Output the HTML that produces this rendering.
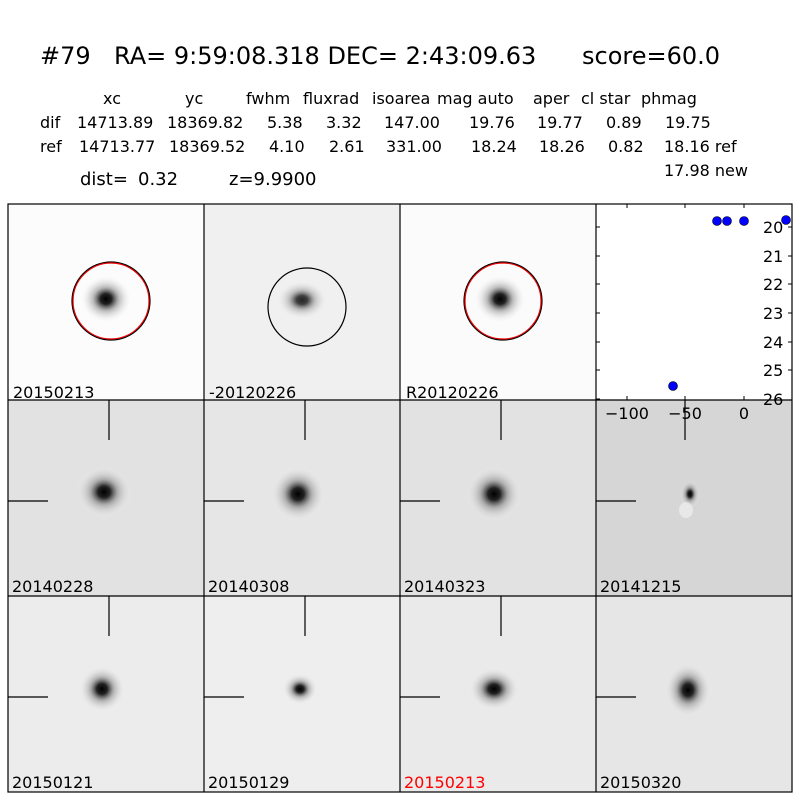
<!DOCTYPE html>
<html><head><style>body{margin:0;background:#fff}svg{display:block}text{font-family:"DejaVu Sans","Liberation Sans",sans-serif;fill:#000}</style></head>
<body>
<svg width="800" height="800" viewBox="0 0 800 800" xmlns="http://www.w3.org/2000/svg">
<defs>
<radialGradient id="b" cx="50%" cy="50%" r="50%">
<stop offset="0" stop-color="#000"/><stop offset="0.22" stop-color="#222"/><stop offset="0.5" stop-color="#888" stop-opacity="0.55"/><stop offset="1" stop-color="#fff" stop-opacity="0"/>
</radialGradient>
</defs>
<g font-size="24">
<text x="40" y="64">#79</text><text x="114" y="64">RA= 9:59:08.318 DEC= 2:43:09.63</text><text x="582" y="64">score=60.0</text>
</g>
<g font-size="16">
<text x="103" y="104">xc</text><text x="185" y="104">yc</text><text x="246" y="104">fwhm</text><text x="303" y="104">fluxrad</text><text x="372" y="104">isoarea</text><text x="437" y="104">mag auto</text><text x="533" y="104">aper</text><text x="581" y="104">cl star</text><text x="641" y="104">phmag</text>
<text x="40" y="128">dif</text><text x="77" y="128">14713.89</text><text x="167" y="128">18369.82</text><text x="267" y="128">5.38</text><text x="326" y="128">3.32</text><text x="384" y="128">147.00</text><text x="469" y="128">19.76</text><text x="537" y="128">19.77</text><text x="606" y="128">0.89</text><text x="665" y="128">19.75</text>
<text x="40" y="152">ref</text><text x="79" y="152">14713.77</text><text x="169" y="152">18369.52</text><text x="269" y="152">4.10</text><text x="329" y="152">2.61</text><text x="386" y="152">331.00</text><text x="471" y="152">18.24</text><text x="539" y="152">18.26</text><text x="608" y="152">0.82</text><text x="664" y="152">18.16 ref</text>
<text x="664" y="176">17.98 new</text>
</g>
<g font-size="18"><text x="80" y="185">dist=</text><text x="138" y="185">0.32</text><text x="229" y="185">z=9.9900</text></g>

<rect x="8" y="204" width="196" height="196" fill="#fcfcfc"/>
<rect x="204" y="204" width="196" height="196" fill="#f0f0f0"/>
<rect x="400" y="204" width="196" height="196" fill="#fbfbfb"/>
<rect x="596" y="204" width="196" height="196" fill="#fff"/>
<rect x="8" y="400" width="196" height="196" fill="#e2e2e2"/>
<rect x="204" y="400" width="196" height="196" fill="#e6e6e6"/>
<rect x="400" y="400" width="196" height="196" fill="#e2e2e2"/>
<rect x="596" y="400" width="196" height="196" fill="#d6d6d6"/>
<rect x="8" y="596" width="196" height="196" fill="#ececec"/>
<rect x="204" y="596" width="196" height="196" fill="#eeeeee"/>
<rect x="400" y="596" width="196" height="196" fill="#eaeaea"/>
<rect x="596" y="596" width="196" height="196" fill="#e6e6e6"/>

<ellipse cx="106" cy="299" rx="26" ry="24" fill="url(#b)"/>
<ellipse cx="302" cy="300" rx="26" ry="20" fill="url(#b)" opacity="0.85"/>
<ellipse cx="500" cy="299" rx="26" ry="24" fill="url(#b)"/>
<ellipse cx="104" cy="492" rx="28" ry="26" fill="url(#b)"/>
<ellipse cx="298" cy="494" rx="28" ry="28" fill="url(#b)"/>
<ellipse cx="494" cy="494" rx="28" ry="28" fill="url(#b)"/>
<ellipse cx="690" cy="494" rx="10" ry="14" fill="url(#b)"/>
<ellipse cx="686" cy="510" rx="7" ry="8" fill="#fff" opacity="0.45"/>
<ellipse cx="102" cy="689" rx="24" ry="24" fill="url(#b)"/>
<ellipse cx="300" cy="689" rx="18" ry="16" fill="url(#b)"/>
<ellipse cx="494" cy="689" rx="26" ry="22" fill="url(#b)"/>
<ellipse cx="688" cy="690" rx="24" ry="28" fill="url(#b)"/>

<circle cx="111" cy="301" r="39" fill="none" stroke="#000" stroke-width="1.2"/>
<circle cx="111" cy="301" r="38" fill="none" stroke="#e00" stroke-width="1.2"/>
<circle cx="307" cy="307" r="39" fill="none" stroke="#000" stroke-width="1.2"/>
<circle cx="503" cy="301" r="39" fill="none" stroke="#000" stroke-width="1.2"/>
<circle cx="503" cy="301" r="38" fill="none" stroke="#e00" stroke-width="1.2"/>

<g stroke="#000" stroke-width="1.2">
<path d="M109 400V440M8 501H48M305 400V440M204 501H244M501 400V440M400 501H440M685 400V440M596 501H636"/>
<path d="M109 596V636M8 697H48M305 596V636M204 697H244M501 596V636M400 697H440M596 697H636"/>
</g>

<g font-size="16">
<text x="13" y="398">20150213</text><text x="209" y="398">-20120226</text><text x="406" y="398">R20120226</text>
<text x="12" y="592">20140228</text><text x="208" y="592">20140308</text><text x="404" y="592">20140323</text><text x="600" y="592">20141215</text>
<text x="12" y="788">20150121</text><text x="208" y="788">20150129</text><text x="404" y="788" style="fill:#f00">20150213</text><text x="600" y="788">20150320</text>
</g>

<g stroke="#000" stroke-width="1.2" fill="none">
<rect x="8" y="204" width="784" height="588"/>
<path d="M204 204V792M400 204V792M596 204V792M8 400H792M8 596H792"/>
</g>

<g stroke="#000" stroke-width="1">
<path d="M596 227h4M596 256h4M596 284h4M596 313h4M596 342h4M596 370h4M596 399h4"/>
<path d="M792 227h-4M792 256h-4M792 284h-4M792 313h-4M792 342h-4M792 370h-4"/>
<path d="M627 204v4M685 204v4M744 204v4M627 400v-4M685 400v-4M744 400v-4"/>
</g>
<g font-size="16">
<text x="763" y="233">20</text><text x="763" y="262">21</text><text x="763" y="290">22</text><text x="763" y="319">23</text><text x="763" y="348">24</text><text x="763" y="376">25</text><text x="763" y="405">26</text>
</g>
<g font-size="16" text-anchor="middle">
<text x="627" y="419">−100</text><text x="685" y="419">−50</text><text x="744" y="419">0</text>
</g>
<g fill="#0000ff" stroke="#000" stroke-width="0.6">
<circle cx="717" cy="221" r="4.5"/><circle cx="727" cy="221" r="4.5"/><circle cx="744" cy="221" r="4.5"/><circle cx="786" cy="220" r="4.5"/><circle cx="673" cy="386" r="4.5"/>
</g>
</svg>
</body></html>
